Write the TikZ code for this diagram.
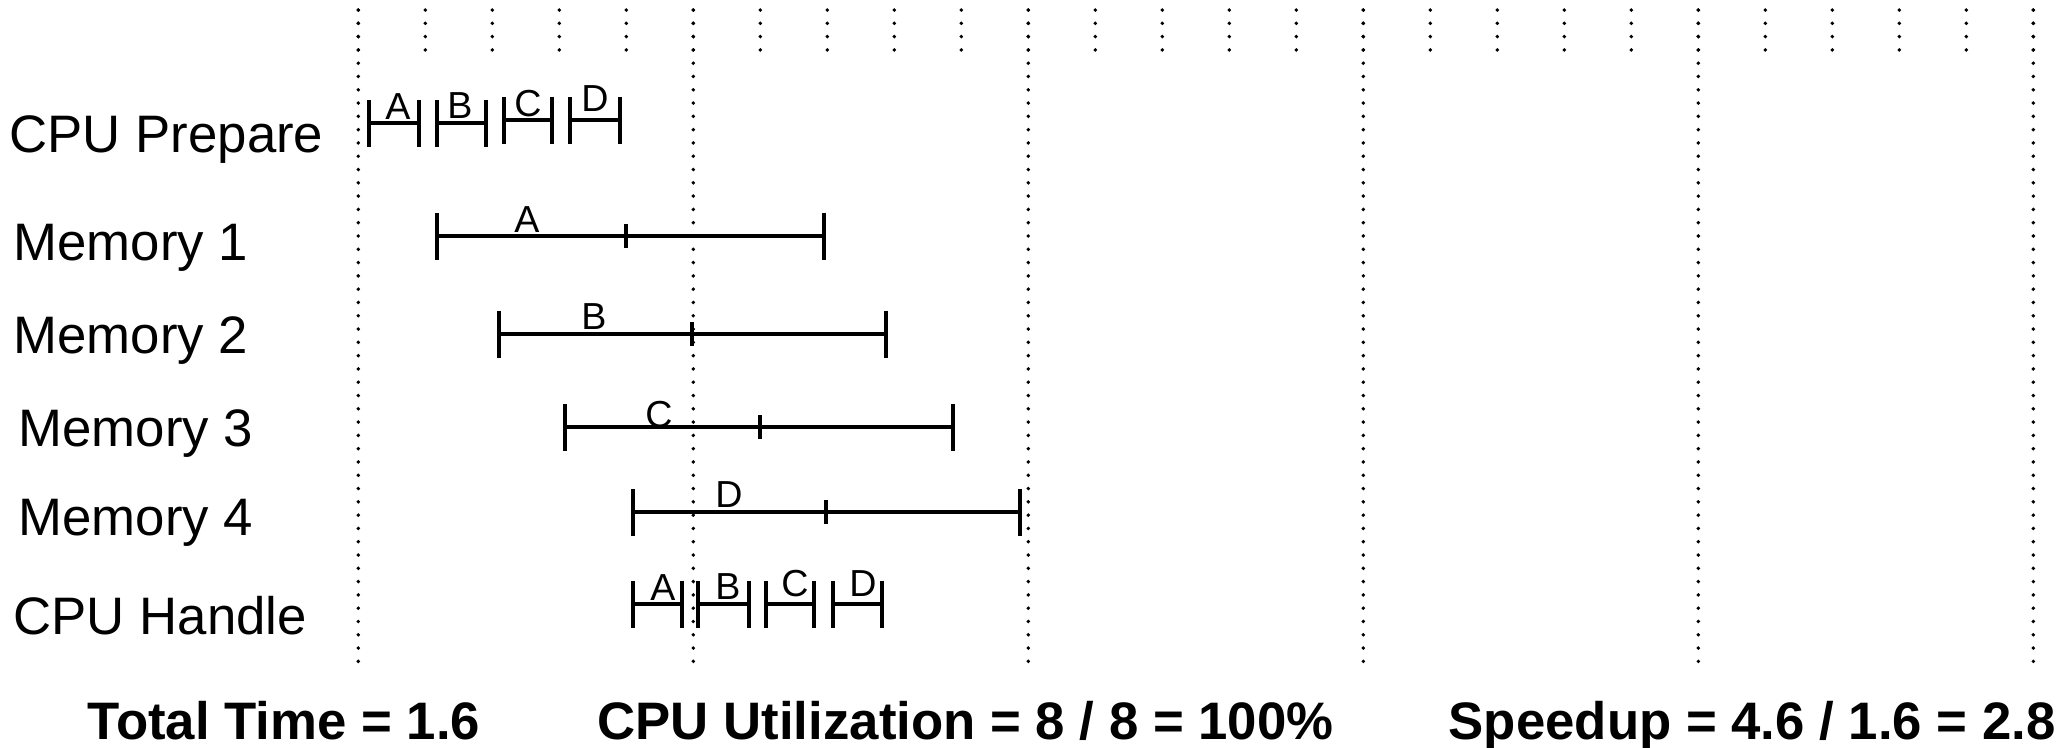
\documentclass[tikz,border=0pt]{standalone}
\usepackage{fontspec}
\setmainfont{Liberation Sans}
\usetikzlibrary{arrows.meta}

\begin{document}
\begin{tikzpicture}[
    x=0.01cm,
    y=-0.01cm,
    rowlabel/.style={
        anchor=base west,
        inner sep=0pt,
        font=\fontsize{15}{18}\selectfont
    },
    seglabel/.style={
        anchor=base,
        inner sep=0pt,
        font=\fontsize{10.7}{12}\selectfont
    },
    summary/.style={
        anchor=base west,
        inner sep=0pt,
        font=\fontsize{15}{18}\selectfont\bfseries
    },
    timespan/.style={
        {Bar[width=4.7mm]}-{Bar[width=4.7mm]},
        line width=1.2pt
    },
    midtick/.style={
        line width=1.2pt
    },
    griddot/.style={
        line width=1.1pt,
        line cap=round,
        dash pattern=on 0pt off 3.78pt
    }
]
\useasboundingbox (0,0) rectangle (2066,747);

% Time grid
\foreach \k in {0,...,25}
    \draw [griddot] ({358.3+67*\k},10) -- ({358.3+67*\k},50);
\foreach \k in {0,...,5}
    \draw [griddot] ({358.3+335*\k},10) -- ({358.3+335*\k},663);

% Row labels
\node (prep) [rowlabel] at (9,152) {CPU Prepare};
\node (mem1) [rowlabel] at (13,260) {Memory 1};
\node (mem2) [rowlabel] at (13,353) {Memory 2};
\node (mem3) [rowlabel] at (18,446) {Memory 3};
\node (mem4) [rowlabel] at (18,535) {Memory 4};
\node (hand) [rowlabel] at (13,634) {CPU Handle};

% CPU prepare
\draw [timespan] (367,123) -- (421,123);
\draw [timespan] (435,123) -- (488,123);
\draw [timespan] (502,120) -- (554,120);
\draw [timespan] (568,120) -- (622,120);
\node (prepA) [seglabel] at (398,119) {A};
\node (prepB) [seglabel] at (460,118) {B};
\node (prepC) [seglabel] at (528,116) {C};
\node (prepD) [seglabel] at (595,111) {D};

% Memory transfers
\draw [timespan] (435,236) -- (826,236);
\draw [midtick] (626,224) -- (626,248);
\node (memA) [seglabel] at (527,232) {A};
\draw [timespan] (497,334) -- (888,334);
\draw [midtick] (692,322) -- (692,346);
\node (memB) [seglabel] at (594,329) {B};
\draw [timespan] (563,427) -- (955,427);
\draw [midtick] (760,415) -- (760,439);
\node (memC) [seglabel] at (659,427) {C};
\draw [timespan] (631,512) -- (1022,512);
\draw [midtick] (826,500) -- (826,524);
\node (memD) [seglabel] at (729,507) {D};

% CPU handle
\draw [timespan] (631,604) -- (684,604);
\draw [timespan] (696,604) -- (751,604);
\draw [timespan] (764,604) -- (816,604);
\draw [timespan] (831,604) -- (884,604);
\node (handA) [seglabel] at (663,600) {A};
\node (handB) [seglabel] at (728,599) {B};
\node (handC) [seglabel] at (795,596) {C};
\node (handD) [seglabel] at (863,596) {D};

% Summary
\node (total) [summary] at (87,739) {Total Time = 1.6};
\node (util) [summary] at (597,739) {CPU Utilization = 8 / 8 = 100\%};
\node (speed) [summary] at (1448,739) {Speedup = 4.6 / 1.6 = 2.8};

\end{tikzpicture}
\end{document}
